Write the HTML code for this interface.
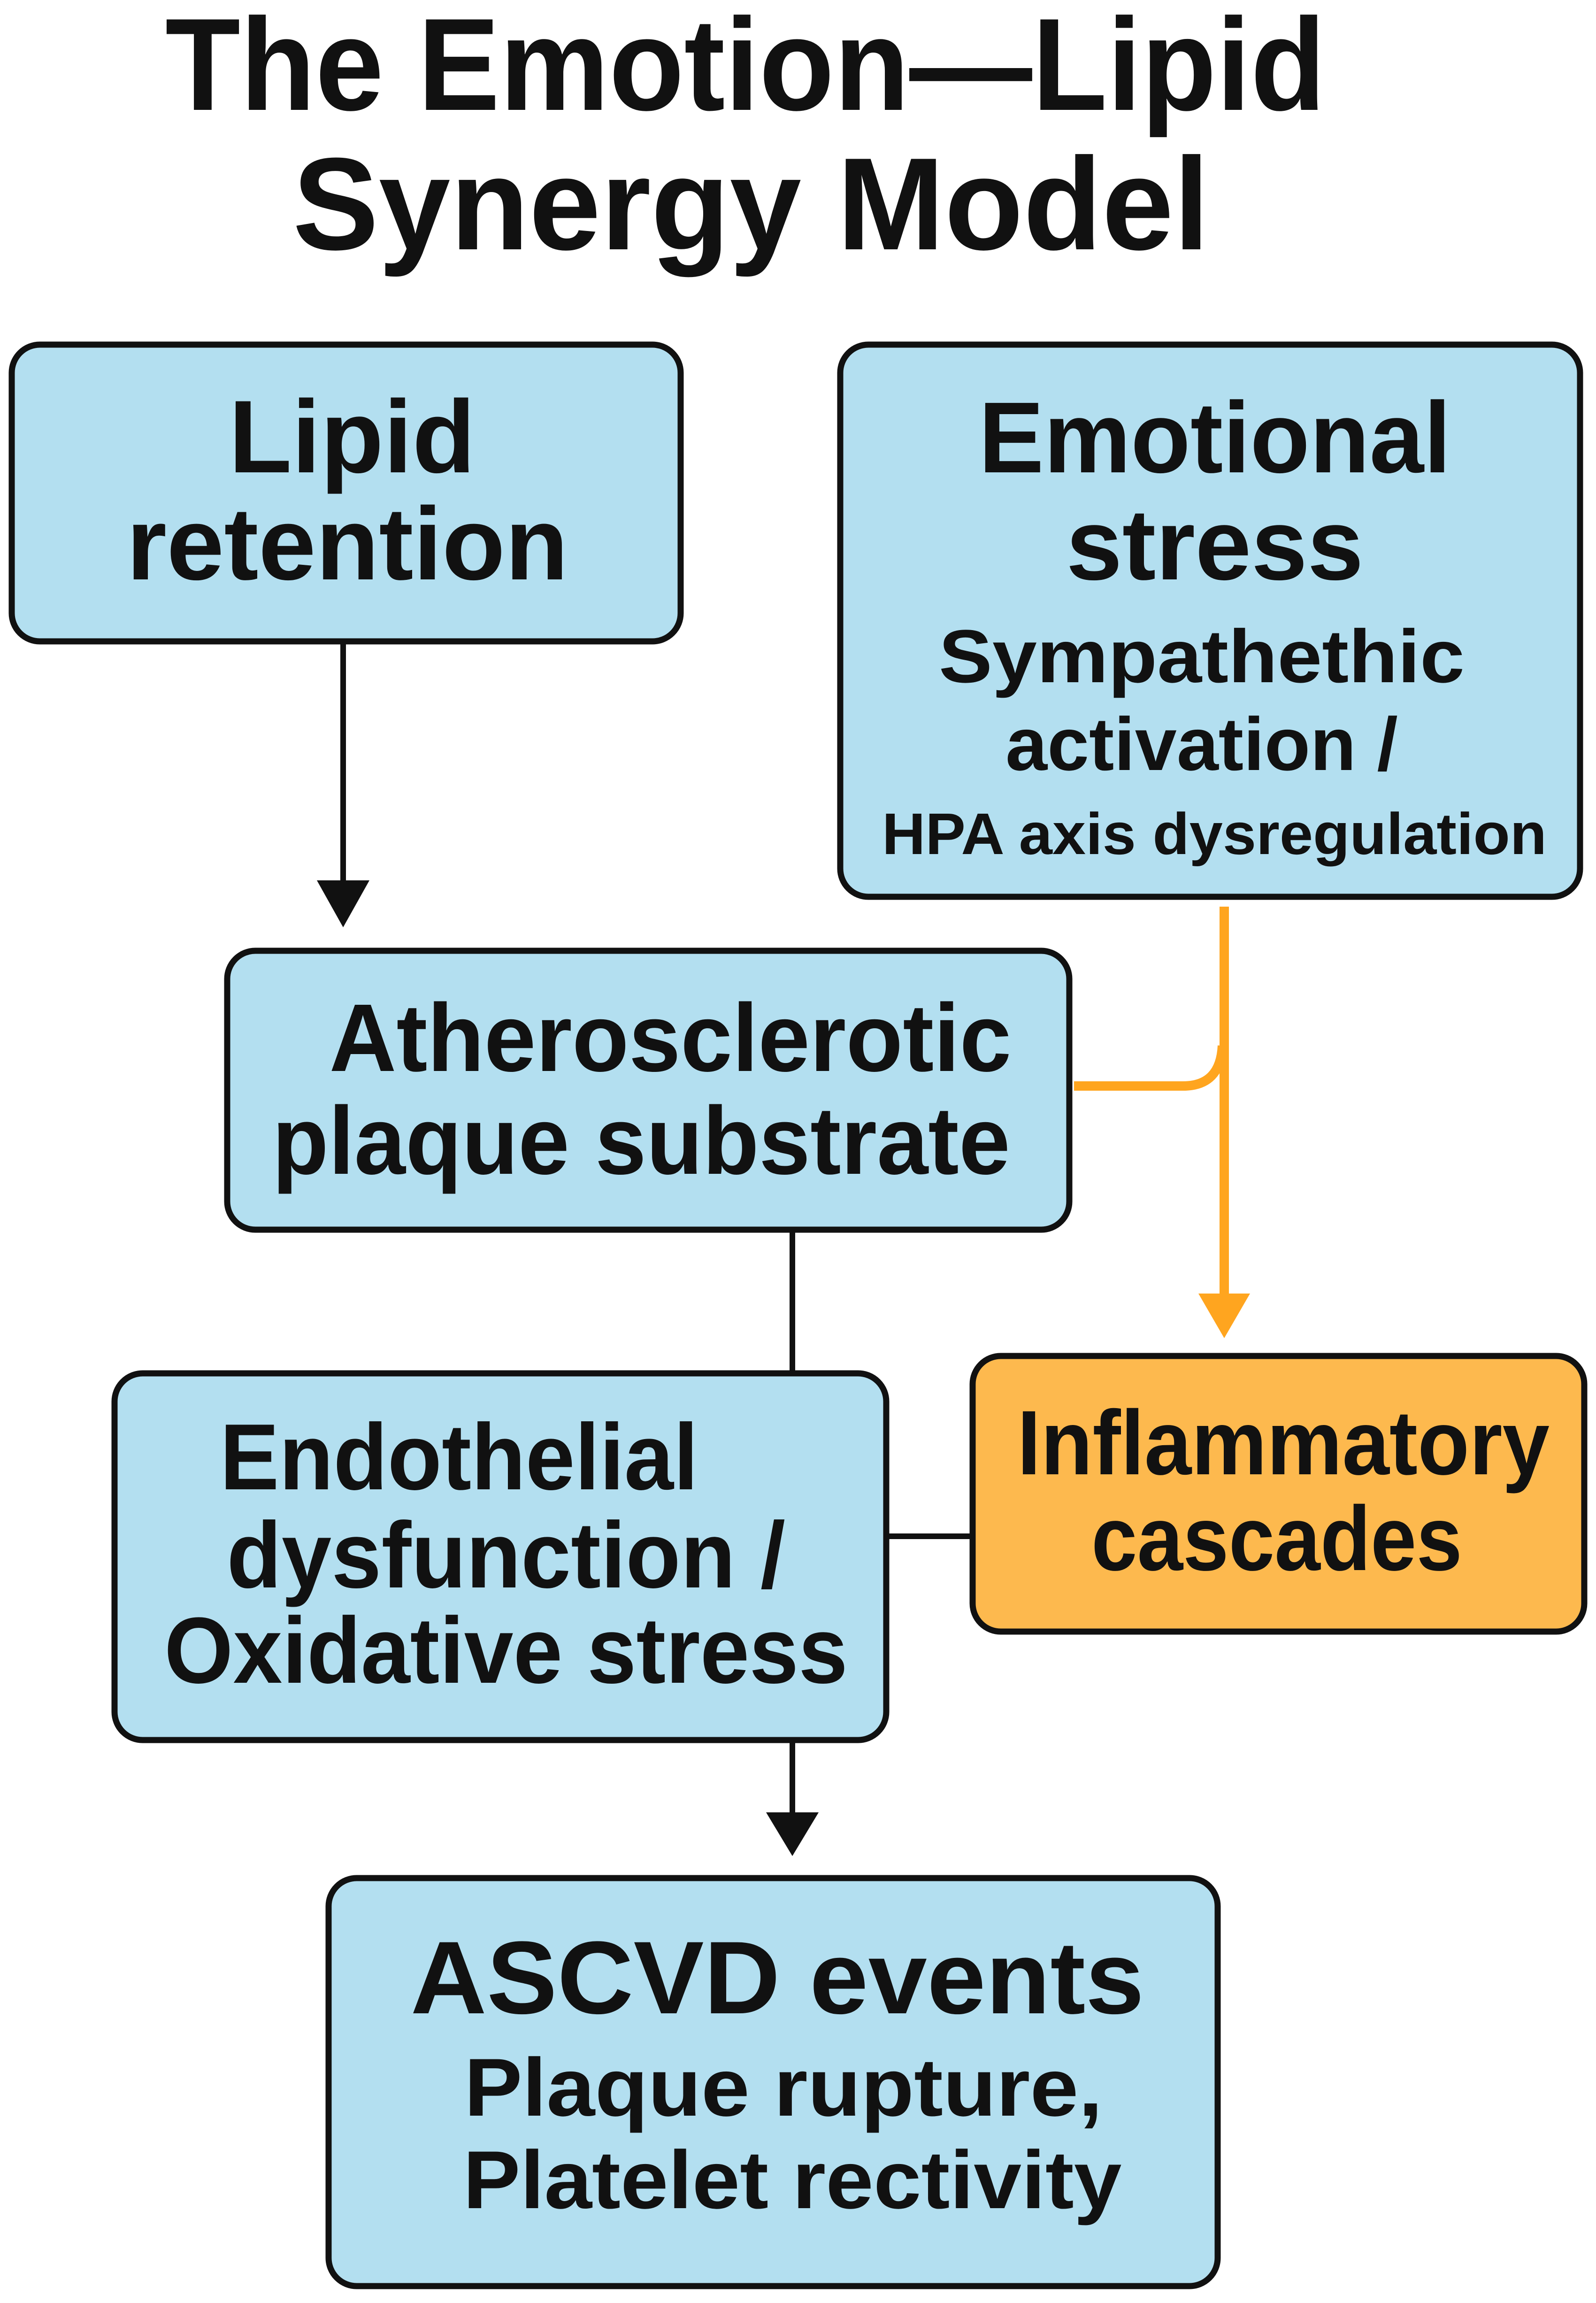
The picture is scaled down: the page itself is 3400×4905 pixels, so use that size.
<!DOCTYPE html>
<html><head><meta charset="utf-8"><style>
html,body{margin:0;padding:0;background:#fff;}
svg{display:block;}
text{font-family:"Liberation Sans",sans-serif;font-weight:bold;fill:#111;text-anchor:middle;}
</style></head><body>
<svg width="3400" height="4905" viewBox="0 0 3400 4905" xmlns="http://www.w3.org/2000/svg">
<rect width="3400" height="4905" fill="#fff"/>
<text x="1588" y="234" font-size="280" textLength="2472" lengthAdjust="spacingAndGlyphs">The Emotion—Lipid</text>
<text x="1600" y="531" font-size="280" textLength="1953" lengthAdjust="spacingAndGlyphs">Synergy Model</text>

<g stroke="#111" stroke-width="13" fill="#B3DFF0">
<rect x="25" y="734" width="1425" height="632" rx="60"/>
<rect x="1790" y="734" width="1576" height="1176" rx="60"/>
<rect x="484" y="2025" width="1794" height="594" rx="60"/>
<rect x="244" y="2925" width="1644" height="781" rx="60"/>
<rect x="2072" y="2888" width="1303" height="587" rx="60" fill="#FDB94E"/>
<rect x="700" y="4000" width="1894" height="869" rx="60"/>
</g>

<g stroke="#111" stroke-width="12" fill="none">
<line x1="731" y1="1366" x2="731" y2="1880"/>
<line x1="1688" y1="2619" x2="1688" y2="2925"/>
<line x1="1888" y1="3272" x2="2072" y2="3272"/>
<line x1="1688" y1="3706" x2="1688" y2="3865"/>
</g>
<polygon points="675,1875 787,1875 731,1975" fill="#111"/>
<polygon points="1632,3860 1744,3860 1688,3953" fill="#111"/>

<g stroke="#FFA51F" stroke-width="20" fill="none">
<line x1="2608" y1="1931" x2="2608" y2="2760"/>
<path d="M2288 2313 L2520 2313 Q2600 2313 2604 2227"/>
</g>
<polygon points="2553,2755 2663,2755 2608,2850" fill="#FFA51F"/>

<text x="750" y="1006" font-size="220">Lipid</text>
<text x="740" y="1234" font-size="220">retention</text>

<text x="2588" y="1006" font-size="215" textLength="1006" lengthAdjust="spacingAndGlyphs">Emotional</text>
<text x="2588" y="1234" font-size="215">stress</text>
<text x="2560" y="1453" font-size="160" textLength="1120" lengthAdjust="spacingAndGlyphs">Sympathethic</text>
<text x="2560" y="1640" font-size="160">activation /</text>
<text x="2587" y="1819" font-size="125" textLength="1416" lengthAdjust="spacingAndGlyphs">HPA axis dysregulation</text>

<text x="1428" y="2281" font-size="205" textLength="1453" lengthAdjust="spacingAndGlyphs">Atherosclerotic</text>
<text x="1366" y="2500" font-size="205" textLength="1572" lengthAdjust="spacingAndGlyphs">plaque substrate</text>

<text x="978" y="3172" font-size="200" textLength="1019" lengthAdjust="spacingAndGlyphs">Endothelial</text>
<text x="1078" y="3381" font-size="200" textLength="1190" lengthAdjust="spacingAndGlyphs">dysfunction /</text>
<text x="1078" y="3584" font-size="200" textLength="1456" lengthAdjust="spacingAndGlyphs">Oxidative stress</text>

<text x="2734" y="3140" font-size="195" textLength="1134" lengthAdjust="spacingAndGlyphs">Inflammatory</text>
<text x="2720" y="3344" font-size="195" textLength="790" lengthAdjust="spacingAndGlyphs">cascades</text>

<text x="1656" y="4288" font-size="220" textLength="1563" lengthAdjust="spacingAndGlyphs">ASCVD events</text>
<text x="1669" y="4506" font-size="175" textLength="1360" lengthAdjust="spacingAndGlyphs">Plaque rupture,</text>
<text x="1688" y="4703" font-size="175" textLength="1403" lengthAdjust="spacingAndGlyphs">Platelet rectivity</text>
</svg>
</body></html>
